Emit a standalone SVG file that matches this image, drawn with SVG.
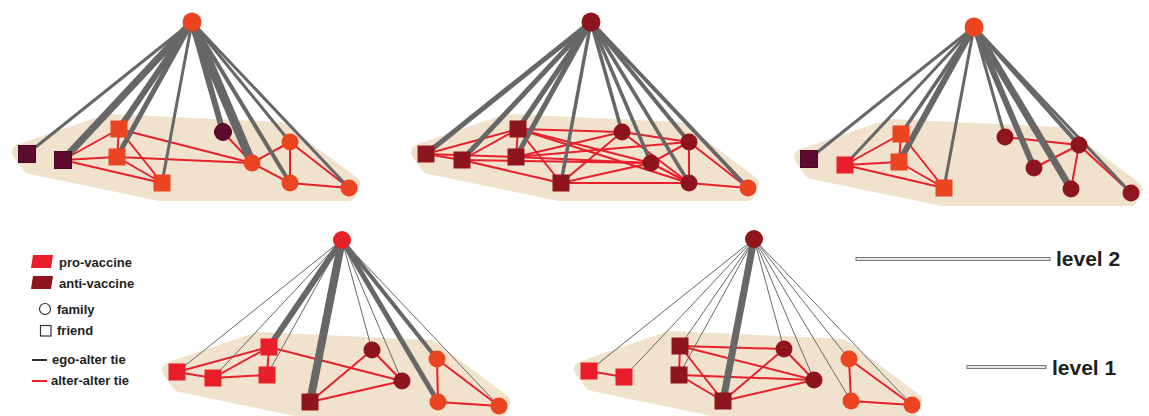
<svg xmlns="http://www.w3.org/2000/svg" width="1149" height="416" viewBox="0 0 1149 416">
<defs>
<style>
.blob{fill:#f0e2cd;stroke:#f0e2cd;stroke-width:16;stroke-linejoin:round}
.e line{stroke:#676767;stroke-linecap:butt}
.t line{stroke:#e8202c;stroke-width:2}
.org{fill:#ea4420}
.red{fill:#e81e2a}
.dr{fill:#8e151b}
.pur{fill:#5c0a2e;stroke:#4a0624;stroke-width:1}
.lg{font-family:"Liberation Sans",Arial,sans-serif;font-weight:bold;font-size:13px;fill:#1e1e1e}
.lv{font-family:"Liberation Sans",Arial,sans-serif;font-weight:bold;font-size:21px;fill:#1e1e1e}
</style>
</defs>
<rect width="1149" height="416" fill="#ffffff"/>

<!-- Network 1 (level 2, left) -->
<g id="net1">
<polygon class="blob" points="20,152 108,122 280,130 352,184 348,193 160,193 30,166"/>
<g id="net1-connectors">
<g class="t">
<line x1="63" y1="160" x2="119" y2="129"/><line x1="63" y1="160" x2="117" y2="157"/><line x1="63" y1="160" x2="162" y2="183"/>
<line x1="119" y1="129" x2="117" y2="157"/><line x1="119" y1="129" x2="162" y2="183"/><line x1="117" y1="157" x2="162" y2="183"/>
<line x1="119" y1="129" x2="252" y2="163"/><line x1="117" y1="157" x2="252" y2="163"/><line x1="223" y1="132" x2="252" y2="163"/>
<line x1="252" y1="163" x2="290" y2="142"/><line x1="252" y1="163" x2="290" y2="183"/><line x1="290" y1="142" x2="290" y2="183"/>
<line x1="290" y1="142" x2="349" y2="188"/><line x1="290" y1="183" x2="349" y2="188"/>
</g>
<g class="e">
<line x1="192" y1="22" x2="27" y2="154" stroke-width="3"/>
<line x1="192" y1="22" x2="63" y2="160" stroke-width="7"/>
<line x1="192" y1="22" x2="119" y2="129" stroke-width="6"/>
<line x1="192" y1="22" x2="117" y2="157" stroke-width="5"/>
<line x1="192" y1="22" x2="162" y2="183" stroke-width="3"/>
<line x1="192" y1="22" x2="223" y2="132" stroke-width="6"/>
<line x1="192" y1="22" x2="252" y2="163" stroke-width="9"/>
<line x1="192" y1="22" x2="290" y2="142" stroke-width="3"/>
<line x1="192" y1="22" x2="290" y2="183" stroke-width="4"/>
<line x1="192" y1="22" x2="349" y2="188" stroke-width="3"/>
</g>
</g>
<g id="n1-ego"><circle class="org" cx="192" cy="22" r="9.5"/></g>
<g id="n1-a1"><rect class="pur" x="18.5" y="145.5" width="17" height="17"/></g>
<g id="n1-a2"><rect class="pur" x="54.5" y="151.5" width="17" height="17"/></g>
<g id="n1-a3"><rect class="org" x="110.5" y="120.5" width="17" height="17"/></g>
<g id="n1-a4"><rect class="org" x="108.5" y="148.5" width="17" height="17"/></g>
<g id="n1-a5"><rect class="org" x="153.5" y="174.5" width="17" height="17"/></g>
<g id="n1-b1"><circle class="pur" cx="223" cy="132" r="8.5"/></g>
<g id="n1-b2"><circle class="org" cx="252" cy="163" r="8.5"/></g>
<g id="n1-b3"><circle class="org" cx="290" cy="142" r="8.5"/></g>
<g id="n1-b4"><circle class="org" cx="290" cy="183" r="8.5"/></g>
<g id="n1-b5"><circle class="org" cx="349" cy="188" r="8.5"/></g>
</g>

<!-- Network 2 (level 2, middle) -->
<g id="net2" transform="translate(399,0)">
<polygon class="blob" points="20,152 108,122 280,130 352,184 348,193 160,193 30,166"/>
<g id="net2-connectors">
<g class="t">
<line x1="27" y1="154" x2="119" y2="129"/><line x1="27" y1="154" x2="117" y2="157"/><line x1="27" y1="154" x2="63" y2="160"/>
<line x1="63" y1="160" x2="119" y2="129"/><line x1="63" y1="160" x2="162" y2="183"/><line x1="63" y1="160" x2="252" y2="163"/>
<line x1="119" y1="129" x2="117" y2="157"/><line x1="119" y1="129" x2="162" y2="183"/><line x1="119" y1="129" x2="223" y2="132"/>
<line x1="119" y1="129" x2="252" y2="163"/><line x1="119" y1="129" x2="290" y2="183"/>
<line x1="117" y1="157" x2="223" y2="132"/><line x1="117" y1="157" x2="290" y2="142"/><line x1="117" y1="157" x2="252" y2="163"/>
<line x1="162" y1="183" x2="223" y2="132"/><line x1="162" y1="183" x2="290" y2="183"/><line x1="162" y1="183" x2="252" y2="163"/>
<line x1="223" y1="132" x2="290" y2="142"/><line x1="223" y1="132" x2="290" y2="183"/>
<line x1="252" y1="163" x2="290" y2="142"/><line x1="252" y1="163" x2="290" y2="183"/>
<line x1="290" y1="142" x2="290" y2="183"/><line x1="290" y1="142" x2="349" y2="188"/><line x1="290" y1="183" x2="349" y2="188"/>
</g>
<g class="e">
<line x1="192" y1="22" x2="27" y2="154" stroke-width="5"/>
<line x1="192" y1="22" x2="63" y2="160" stroke-width="5"/>
<line x1="192" y1="22" x2="119" y2="129" stroke-width="5"/>
<line x1="192" y1="22" x2="117" y2="157" stroke-width="5"/>
<line x1="192" y1="22" x2="162" y2="183" stroke-width="3.5"/>
<line x1="192" y1="22" x2="223" y2="132" stroke-width="3.5"/>
<line x1="192" y1="22" x2="252" y2="163" stroke-width="3.5"/>
<line x1="192" y1="22" x2="290" y2="142" stroke-width="4"/>
<line x1="192" y1="22" x2="290" y2="183" stroke-width="3.5"/>
<line x1="192" y1="22" x2="349" y2="188" stroke-width="4"/>
</g>
</g>
<g id="n2-ego"><circle class="dr" cx="192" cy="22" r="9.5"/></g>
<g id="n2-a1"><rect class="dr" x="18.5" y="145.5" width="17" height="17"/></g>
<g id="n2-a2"><rect class="dr" x="54.5" y="151.5" width="17" height="17"/></g>
<g id="n2-a3"><rect class="dr" x="110.5" y="120.5" width="17" height="17"/></g>
<g id="n2-a4"><rect class="dr" x="108.5" y="148.5" width="17" height="17"/></g>
<g id="n2-a5"><rect class="dr" x="153.5" y="174.5" width="17" height="17"/></g>
<g id="n2-b1"><circle class="dr" cx="223" cy="132" r="8.5"/></g>
<g id="n2-b2"><circle class="dr" cx="252" cy="163" r="8.5"/></g>
<g id="n2-b3"><circle class="dr" cx="290" cy="142" r="8.5"/></g>
<g id="n2-b4"><circle class="dr" cx="290" cy="183" r="8.5"/></g>
<g id="n2-b5"><circle class="org" cx="349" cy="188" r="8.5"/></g>
</g>

<!-- Network 3 (level 2, right) -->
<g id="net3" transform="translate(782,5)">
<polygon class="blob" points="20,152 108,122 280,130 352,184 348,193 160,193 30,166"/>
<g id="net3-connectors">
<g class="t">
<line x1="63" y1="160" x2="119" y2="129"/><line x1="63" y1="160" x2="117" y2="157"/><line x1="63" y1="160" x2="162" y2="183"/>
<line x1="119" y1="129" x2="117" y2="157"/><line x1="119" y1="129" x2="162" y2="183"/><line x1="117" y1="157" x2="162" y2="183"/>
<line x1="223" y1="132" x2="297" y2="140"/><line x1="252" y1="163" x2="297" y2="140"/>
<line x1="297" y1="140" x2="289" y2="184"/><line x1="297" y1="140" x2="349" y2="188"/>
</g>
<g class="e">
<line x1="192" y1="22" x2="27" y2="154" stroke-width="3"/>
<line x1="192" y1="22" x2="63" y2="160" stroke-width="3"/>
<line x1="192" y1="22" x2="119" y2="129" stroke-width="3.5"/>
<line x1="192" y1="22" x2="117" y2="157" stroke-width="6"/>
<line x1="192" y1="22" x2="162" y2="183" stroke-width="3"/>
<line x1="192" y1="22" x2="223" y2="132" stroke-width="3"/>
<line x1="192" y1="22" x2="252" y2="163" stroke-width="6"/>
<line x1="192" y1="22" x2="297" y2="140" stroke-width="4"/>
<line x1="192" y1="22" x2="289" y2="184" stroke-width="7"/>
<line x1="192" y1="22" x2="349" y2="188" stroke-width="3"/>
</g>
</g>
<g id="n3-ego"><circle class="org" cx="192" cy="22" r="9.5"/></g>
<g id="n3-a1"><rect class="pur" x="18.5" y="145.5" width="17" height="17"/></g>
<g id="n3-a2"><rect class="red" x="54.5" y="151.5" width="17" height="17"/></g>
<g id="n3-a3"><rect class="org" x="110.5" y="120.5" width="17" height="17"/></g>
<g id="n3-a4"><rect class="org" x="108.5" y="148.5" width="17" height="17"/></g>
<g id="n3-a5"><rect class="org" x="153.5" y="174.5" width="17" height="17"/></g>
<g id="n3-b1"><circle class="dr" cx="223" cy="132" r="8.5"/></g>
<g id="n3-b2"><circle class="dr" cx="252" cy="163" r="8.5"/></g>
<g id="n3-b3"><circle class="dr" cx="297" cy="140" r="8.5"/></g>
<g id="n3-b4"><circle class="dr" cx="289" cy="184" r="8.5"/></g>
<g id="n3-b5"><circle class="dr" cx="349" cy="188" r="8.5"/></g>
</g>

<!-- Network 4 (level 1, left) -->
<g id="net4" transform="translate(150,218)">
<polygon class="blob" points="20,152 108,122 280,130 352,184 348,193 160,193 30,166"/>
<g id="net4-connectors">
<g class="t">
<line x1="27" y1="154" x2="63" y2="160"/><line x1="27" y1="154" x2="119" y2="129"/>
<line x1="63" y1="160" x2="119" y2="129"/><line x1="63" y1="160" x2="117" y2="157"/>
<line x1="119" y1="129" x2="117" y2="157"/><line x1="119" y1="129" x2="252" y2="163"/>
<line x1="160" y1="184" x2="222" y2="132"/><line x1="160" y1="184" x2="252" y2="163"/><line x1="222" y1="132" x2="252" y2="163"/>
<line x1="287" y1="141" x2="288" y2="184"/><line x1="287" y1="141" x2="349" y2="188"/><line x1="288" y1="184" x2="349" y2="188"/>
</g>
<g class="e">
<line x1="192" y1="22" x2="27" y2="154" stroke-width="1"/>
<line x1="192" y1="22" x2="63" y2="160" stroke-width="1"/>
<line x1="192" y1="22" x2="119" y2="129" stroke-width="6"/>
<line x1="192" y1="22" x2="117" y2="157" stroke-width="1"/>
<line x1="192" y1="22" x2="160" y2="184" stroke-width="8"/>
<line x1="192" y1="22" x2="222" y2="132" stroke-width="1"/>
<line x1="192" y1="22" x2="252" y2="163" stroke-width="1"/>
<line x1="192" y1="22" x2="287" y2="141" stroke-width="4"/>
<line x1="192" y1="22" x2="288" y2="184" stroke-width="5"/>
<line x1="192" y1="22" x2="349" y2="188" stroke-width="1"/>
</g>
</g>
<g id="n4-ego"><circle class="red" cx="192" cy="22" r="9"/></g>
<g id="n4-a1"><rect class="red" x="18.5" y="145.5" width="17" height="17"/></g>
<g id="n4-a2"><rect class="red" x="54.5" y="151.5" width="17" height="17"/></g>
<g id="n4-a3"><rect class="red" x="110.5" y="120.5" width="17" height="17"/></g>
<g id="n4-a4"><rect class="red" x="108.5" y="148.5" width="17" height="17"/></g>
<g id="n4-a5"><rect class="dr" x="151.5" y="175.5" width="17" height="17"/></g>
<g id="n4-b1"><circle class="dr" cx="222" cy="132" r="8.5"/></g>
<g id="n4-b2"><circle class="dr" cx="252" cy="163" r="8.5"/></g>
<g id="n4-b3"><circle class="org" cx="287" cy="141" r="8.5"/></g>
<g id="n4-b4"><circle class="org" cx="288" cy="184" r="8.5"/></g>
<g id="n4-b5"><circle class="org" cx="349" cy="188" r="8.5"/></g>
</g>

<!-- Network 5 (level 1, right) -->
<g id="net5" transform="translate(562,217)">
<polygon class="blob" points="20,152 108,122 280,130 352,184 348,193 160,193 30,166"/>
<g id="net5-connectors">
<g class="t">
<line x1="27" y1="154" x2="62" y2="160"/>
<line x1="118" y1="129" x2="117" y2="158"/><line x1="118" y1="129" x2="222" y2="132"/><line x1="118" y1="129" x2="252" y2="163"/><line x1="118" y1="129" x2="161" y2="184"/>
<line x1="117" y1="158" x2="252" y2="163"/><line x1="117" y1="158" x2="161" y2="184"/>
<line x1="161" y1="184" x2="222" y2="132"/><line x1="161" y1="184" x2="252" y2="163"/><line x1="222" y1="132" x2="252" y2="163"/>
<line x1="287" y1="142" x2="289" y2="184"/><line x1="287" y1="142" x2="350" y2="188"/><line x1="289" y1="184" x2="350" y2="188"/>
</g>
<g class="e">
<line x1="192" y1="22" x2="27" y2="154" stroke-width="1"/>
<line x1="192" y1="22" x2="62" y2="160" stroke-width="1"/>
<line x1="192" y1="22" x2="118" y2="129" stroke-width="1"/>
<line x1="192" y1="22" x2="117" y2="158" stroke-width="1"/>
<line x1="192" y1="22" x2="161" y2="184" stroke-width="7"/>
<line x1="192" y1="22" x2="222" y2="132" stroke-width="1"/>
<line x1="192" y1="22" x2="252" y2="163" stroke-width="1"/>
<line x1="192" y1="22" x2="287" y2="142" stroke-width="1"/>
<line x1="192" y1="22" x2="289" y2="184" stroke-width="1"/>
<line x1="192" y1="22" x2="350" y2="188" stroke-width="1"/>
</g>
</g>
<g id="n5-ego"><circle class="dr" cx="192" cy="22" r="9"/></g>
<g id="n5-a1"><rect class="red" x="18.5" y="145.5" width="17" height="17"/></g>
<g id="n5-a2"><rect class="red" x="53.5" y="151.5" width="17" height="17"/></g>
<g id="n5-a3"><rect class="dr" x="109.5" y="120.5" width="17" height="17"/></g>
<g id="n5-a4"><rect class="dr" x="108.5" y="149.5" width="17" height="17"/></g>
<g id="n5-a5"><rect class="dr" x="152.5" y="175.5" width="17" height="17"/></g>
<g id="n5-b1"><circle class="dr" cx="222" cy="132" r="8.5"/></g>
<g id="n5-b2"><circle class="dr" cx="252" cy="163" r="8.5"/></g>
<g id="n5-b3"><circle class="org" cx="287" cy="142" r="8.5"/></g>
<g id="n5-b4"><circle class="org" cx="289" cy="184" r="8.5"/></g>
<g id="n5-b5"><circle class="org" cx="350" cy="188" r="8.5"/></g>
</g>

<!-- Legend -->
<g id="legend">
<polygon fill="#e81e2a" points="33,255 53,255 51,268 31,268"/>
<text class="lg" x="59" y="267">pro-vaccine</text>
<polygon fill="#8e151b" points="33,276 53,276 51,289 31,289"/>
<text class="lg" x="59" y="288">anti-vaccine</text>
<circle cx="45" cy="309" r="5.5" fill="#ffffff" stroke="#333" stroke-width="1.2"/>
<text class="lg" x="57" y="314">family</text>
<rect x="40.5" y="325.5" width="10.5" height="10.5" fill="#ffffff" stroke="#333" stroke-width="1.2"/>
<text class="lg" x="57" y="335">friend</text>
<line x1="32" y1="360" x2="47" y2="360" stroke="#333" stroke-width="2"/>
<text class="lg" x="52" y="364">ego-alter tie</text>
<line x1="32" y1="381" x2="47" y2="381" stroke="#e8202c" stroke-width="2"/>
<text class="lg" x="51" y="385">alter-alter tie</text>
</g>

<!-- Level markers -->
<g id="level2">
<rect x="856" y="257.5" width="194" height="3" fill="#e6e6e6" stroke="#777" stroke-width="1"/>
<text class="lv" x="1056" y="266">level 2</text>
</g>
<g id="level1">
<rect x="967" y="365.5" width="79" height="3" fill="#e6e6e6" stroke="#777" stroke-width="1"/>
<text class="lv" x="1052" y="375">level 1</text>
</g>
</svg>
